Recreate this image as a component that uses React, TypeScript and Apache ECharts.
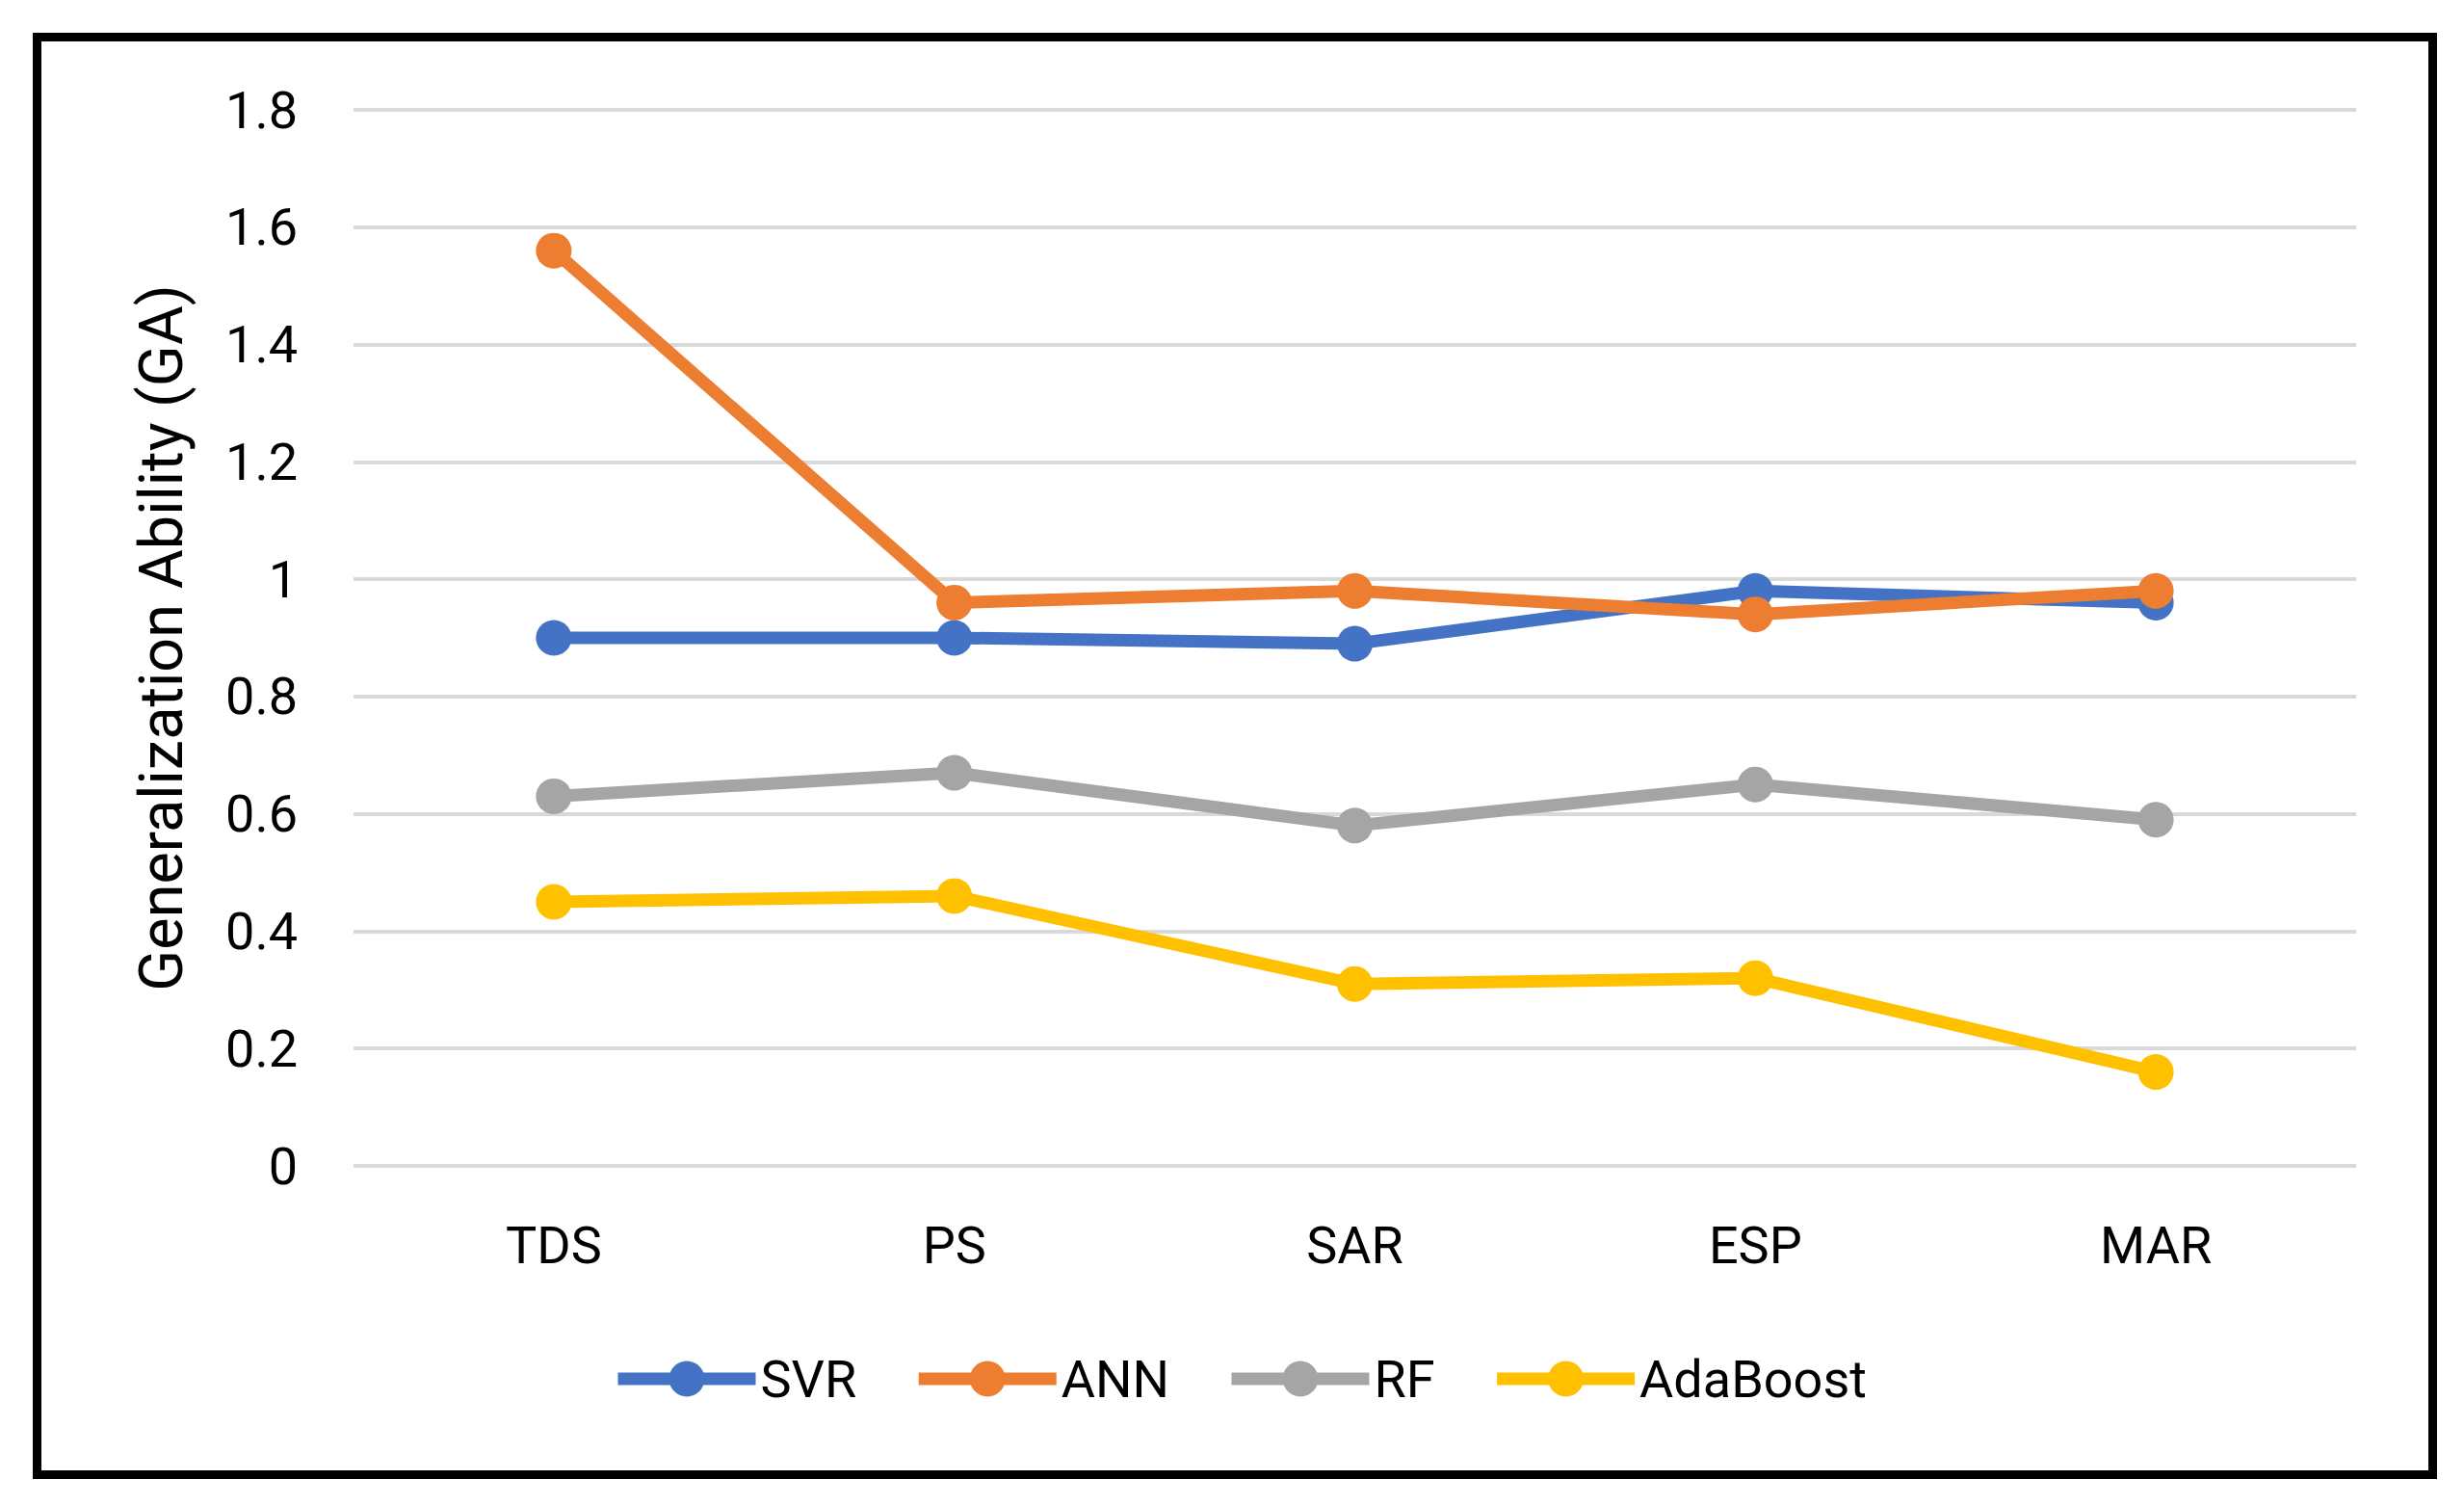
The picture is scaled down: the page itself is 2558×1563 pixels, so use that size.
import React, { useEffect, useRef } from "react";
import * as echarts from "echarts";

const categories = ["TDS", "PS", "SAR", "ESP", "MAR"];
const svr = [0.9, 0.9, 0.89, 0.98, 0.96];
const ann = [1.56, 0.96, 0.98, 0.94, 0.98];
const rf = [0.63, 0.67, 0.58, 0.65, 0.59];
const adaboost = [0.45, 0.46, 0.31, 0.32, 0.16];
const seriesNames = ["SVR", "ANN", "RF", "AdaBoost"];
const seriesColors = ["#4472C4", "#ED7D31", "#A5A5A5", "#FFC000"];
const yTicks = { min: 0, max: 1.8, interval: 0.2 };
const yTitle = "Generalization Ability (GA)";

const FONT = "Roboto";

export default function App() {
  const ref = useRef<HTMLDivElement>(null);
  useEffect(() => {
    document.body.style.margin = "0";
    const chart = echarts.init(ref.current!, null, { renderer: "svg" });
    const values = [svr, ann, rf, adaboost];
    chart.setOption({
      animation: false,
      backgroundColor: "#ffffff",
      grid: { left: 367, right: 112, top: 114, bottom: 353, containLabel: false },
      xAxis: {
        type: "category",
        data: categories,
        boundaryGap: true,
        axisLine: { show: false },
        axisTick: { show: false },
        axisLabel: { color: "#000", fontFamily: FONT, fontSize: 54, lineHeight: 54, margin: 55 },
      },
      yAxis: {
        type: "value",
        min: yTicks.min,
        max: yTicks.max,
        interval: yTicks.interval,
        name: yTitle,
        nameLocation: "middle",
        nameRotate: 90,
        nameGap: 168,
        nameTextStyle: { color: "#000", fontFamily: FONT, fontSize: 63 },
        axisLine: { show: false },
        axisTick: { show: false },
        splitLine: { lineStyle: { color: "#D9D9D9", width: 4 } },
        axisLabel: {
          color: "#000",
          fontFamily: FONT,
          fontSize: 54,
          margin: 58,
          formatter: (v: number) => String(Math.round(v * 10) / 10),
        },
      },
      legend: {
        data: seriesNames,
        left: 630,
        top: 1399,
        itemWidth: 143,
        itemHeight: 46,
        itemGap: 58,
        lineStyle: { width: 13, cap: "butt" },
        itemStyle: { borderWidth: 0 },
        textStyle: { color: "#000", fontFamily: FONT, fontSize: 54, lineHeight: 54 },
      },
      series: seriesNames.map((name, i) => ({
        name,
        type: "line",
        data: values[i],
        symbol: "circle",
        symbolSize: 37,
        color: seriesColors[i],
        lineStyle: { color: seriesColors[i], width: 13 },
        itemStyle: { color: seriesColors[i] },
      })),
      graphic: [
        {
          type: "rect",
          shape: { x: 38.5, y: 38.5, width: 2487, height: 1492 },
          style: { fill: "none", stroke: "#000", lineWidth: 9 },
          z: 100,
        },
      ],
    });
    return () => chart.dispose();
  }, []);
  return <div ref={ref} style={{ width: 2558, height: 1563 }} />;
}
